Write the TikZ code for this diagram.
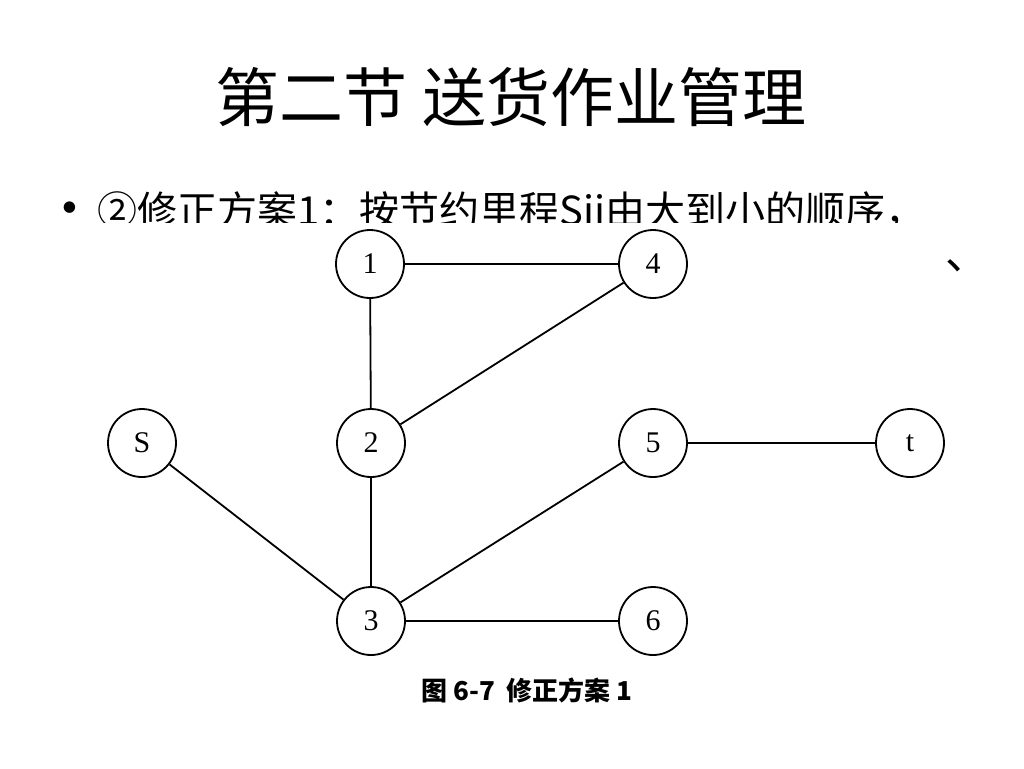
\documentclass[tikz,border=0pt]{standalone}
\usepackage{fontspec}
\setmainfont{Liberation Serif}
\newfontfamily\cjk{Noto Sans CJK SC}
\begin{document}
\begin{tikzpicture}[x=0.5pt,y=-0.5pt,
  vertex/.style={draw,circle,line width=0.9pt,minimum size=34pt,inner sep=0pt,font=\fontsize{15}{17}\selectfont},
  edge/.style={line width=0.9pt}]
\useasboundingbox (0,0) rectangle (1024,768);
%\draw[step=50,gray,very thin] (0,0) grid (1024,768); %background grid
\node[font=\cjk\fontsize{32}{38}\selectfont] (title) at (511,97) {第二节 送货作业管理};
\node[font=\fontsize{24}{28}\selectfont] (dot) at (70,213) {•};
\node[font=\cjk\fontsize{20}{24}\selectfont,anchor=west,inner sep=0pt] (line) at (97,213) {②修正方案1：按节约里程Sij由大到小的顺序，};
\node[font=\cjk\fontsize{22}{24}\selectfont] (comma) at (967,266) {、};
% figure pasted over the text
\fill[white] (60,223) rectangle (945,720);
\node[vertex] (n1) at (370,264) {1};
\node[vertex] (n4) at (653,264) {4};
\node[vertex] (s) at (142,443) {S};
\node[vertex] (n2) at (371,443) {2};
\node[vertex] (n5) at (653,443) {5};
\node[vertex] (t) at (910,443) {t};
\node[vertex] (n3) at (371,621) {3};
\node[vertex] (n6) at (653,621) {6};
\draw[edge] (n1) -- (n4);
\draw[edge] (n1) -- (n2);
\draw[edge] (n2) -- (n4);
\draw[edge] (n2) -- (n3);
\draw[edge] (s) -- (n3);
\draw[edge] (n3) -- (n5);
\draw[edge] (n3) -- (n6);
\draw[edge] (n5) -- (t);
\node[font=\cjk\bfseries\fontsize{13}{15}\selectfont] (cap) at (527,690) {图 6-7\ \ 修正方案 1};
\end{tikzpicture}
\end{document}
